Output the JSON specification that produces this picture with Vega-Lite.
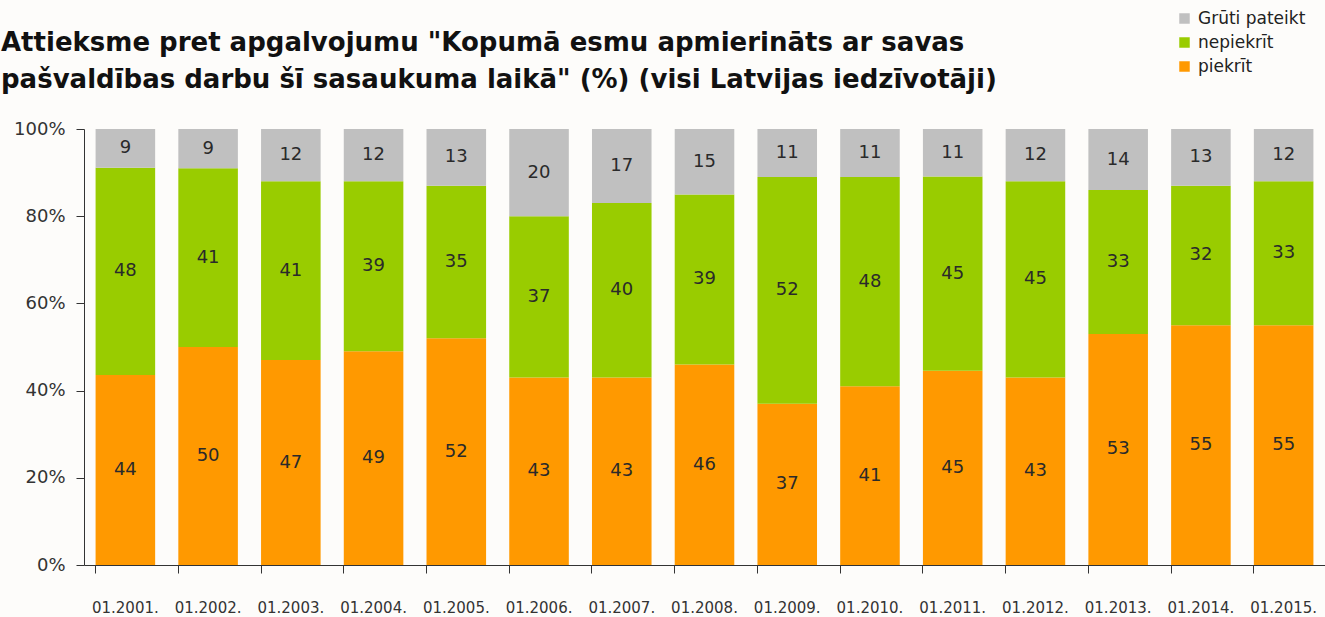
{
  "$schema": "https://vega.github.io/schema/vega-lite/v6.json",
  "width": 1241,
  "height": 436,
  "autosize": {"type": "none"},
  "padding": {"left": 84, "top": 129, "right": 0, "bottom": 52},
  "background": "#fdfcfa",
  "title": {
    "text": ["Attieksme pret apgalvojumu \"Kopumā esmu apmierināts ar savas", "pašvaldības darbu šī sasaukuma laikā\" (%) (visi Latvijas iedzīvotāji)"],
    "anchor": "start",
    "frame": "group",
    "dx": -83,
    "offset": -83,
    "fontSize": 26,
    "lineHeight": 37,
    "font": "DejaVu Sans",
    "fontWeight": "bold",
    "color": "#111"
  },
  "config": {
    "view": {"stroke": null},
    "font": "DejaVu Sans"
  },
  "data": {
    "values": [
      {"period": "01.2001.", "answer": "piekrīt", "o": 1, "value": 44},
      {"period": "01.2001.", "answer": "nepiekrīt", "o": 2, "value": 48},
      {"period": "01.2001.", "answer": "Grūti pateikt", "o": 3, "value": 9},
      {"period": "01.2002.", "answer": "piekrīt", "o": 1, "value": 50},
      {"period": "01.2002.", "answer": "nepiekrīt", "o": 2, "value": 41},
      {"period": "01.2002.", "answer": "Grūti pateikt", "o": 3, "value": 9},
      {"period": "01.2003.", "answer": "piekrīt", "o": 1, "value": 47},
      {"period": "01.2003.", "answer": "nepiekrīt", "o": 2, "value": 41},
      {"period": "01.2003.", "answer": "Grūti pateikt", "o": 3, "value": 12},
      {"period": "01.2004.", "answer": "piekrīt", "o": 1, "value": 49},
      {"period": "01.2004.", "answer": "nepiekrīt", "o": 2, "value": 39},
      {"period": "01.2004.", "answer": "Grūti pateikt", "o": 3, "value": 12},
      {"period": "01.2005.", "answer": "piekrīt", "o": 1, "value": 52},
      {"period": "01.2005.", "answer": "nepiekrīt", "o": 2, "value": 35},
      {"period": "01.2005.", "answer": "Grūti pateikt", "o": 3, "value": 13},
      {"period": "01.2006.", "answer": "piekrīt", "o": 1, "value": 43},
      {"period": "01.2006.", "answer": "nepiekrīt", "o": 2, "value": 37},
      {"period": "01.2006.", "answer": "Grūti pateikt", "o": 3, "value": 20},
      {"period": "01.2007.", "answer": "piekrīt", "o": 1, "value": 43},
      {"period": "01.2007.", "answer": "nepiekrīt", "o": 2, "value": 40},
      {"period": "01.2007.", "answer": "Grūti pateikt", "o": 3, "value": 17},
      {"period": "01.2008.", "answer": "piekrīt", "o": 1, "value": 46},
      {"period": "01.2008.", "answer": "nepiekrīt", "o": 2, "value": 39},
      {"period": "01.2008.", "answer": "Grūti pateikt", "o": 3, "value": 15},
      {"period": "01.2009.", "answer": "piekrīt", "o": 1, "value": 37},
      {"period": "01.2009.", "answer": "nepiekrīt", "o": 2, "value": 52},
      {"period": "01.2009.", "answer": "Grūti pateikt", "o": 3, "value": 11},
      {"period": "01.2010.", "answer": "piekrīt", "o": 1, "value": 41},
      {"period": "01.2010.", "answer": "nepiekrīt", "o": 2, "value": 48},
      {"period": "01.2010.", "answer": "Grūti pateikt", "o": 3, "value": 11},
      {"period": "01.2011.", "answer": "piekrīt", "o": 1, "value": 45},
      {"period": "01.2011.", "answer": "nepiekrīt", "o": 2, "value": 45},
      {"period": "01.2011.", "answer": "Grūti pateikt", "o": 3, "value": 11},
      {"period": "01.2012.", "answer": "piekrīt", "o": 1, "value": 43},
      {"period": "01.2012.", "answer": "nepiekrīt", "o": 2, "value": 45},
      {"period": "01.2012.", "answer": "Grūti pateikt", "o": 3, "value": 12},
      {"period": "01.2013.", "answer": "piekrīt", "o": 1, "value": 53},
      {"period": "01.2013.", "answer": "nepiekrīt", "o": 2, "value": 33},
      {"period": "01.2013.", "answer": "Grūti pateikt", "o": 3, "value": 14},
      {"period": "01.2014.", "answer": "piekrīt", "o": 1, "value": 55},
      {"period": "01.2014.", "answer": "nepiekrīt", "o": 2, "value": 32},
      {"period": "01.2014.", "answer": "Grūti pateikt", "o": 3, "value": 13},
      {"period": "01.2015.", "answer": "piekrīt", "o": 1, "value": 55},
      {"period": "01.2015.", "answer": "nepiekrīt", "o": 2, "value": 33},
      {"period": "01.2015.", "answer": "Grūti pateikt", "o": 3, "value": 12}
    ]
  },
  "encoding": {
    "x": {
      "field": "period",
      "type": "nominal",
      "sort": null,
      "scale": {"paddingInner": 0.28, "paddingOuter": 0.14},
      "axis": {
        "title": null,
        "labelAngle": 0,
        "labelFontSize": 15,
        "labelColor": "#333",
        "labelPadding": 27,
        "bandPosition": 0,
        "tickSize": 8,
        "tickColor": "#333",
        "domainColor": "#333",
        "labelOverlap": false
      }
    },
    "y": {
      "field": "value",
      "type": "quantitative",
      "stack": "normalize",
      "scale": {"domain": [0, 1]},
      "axis": {
        "title": null,
        "format": ".0%",
        "values": [0, 0.2, 0.4, 0.6, 0.8, 1],
        "grid": false,
        "labelFontSize": 18,
        "labelColor": "#333",
        "labelPadding": 11,
        "tickSize": 8,
        "tickColor": "#333",
        "domainColor": "#333"
      }
    },
    "order": {"field": "o", "type": "quantitative"}
  },
  "layer": [
    {
      "mark": {"type": "bar"},
      "encoding": {
        "color": {
          "field": "answer",
          "type": "nominal",
          "scale": {
            "domain": ["Grūti pateikt", "nepiekrīt", "piekrīt"],
            "range": ["#c0c0c0", "#99cc00", "#ff9900"]
          },
          "legend": {
            "title": null,
            "orient": "none",
            "legendX": 1092,
            "legendY": -119,
            "symbolType": "square",
            "symbolSize": 110,
            "symbolStrokeWidth": 0,
            "labelFontSize": 17,
            "labelColor": "#222",
            "rowPadding": 6,
            "labelOffset": 5,
            "padding": 0
          }
        }
      }
    },
    {
      "mark": {"type": "text", "fontSize": 18, "color": "#2a2a2a"},
      "encoding": {
        "y": {
          "field": "value",
          "type": "quantitative",
          "stack": "normalize",
          "bandPosition": 0.5
        },
        "text": {"field": "value", "type": "quantitative"}
      }
    }
  ]
}
